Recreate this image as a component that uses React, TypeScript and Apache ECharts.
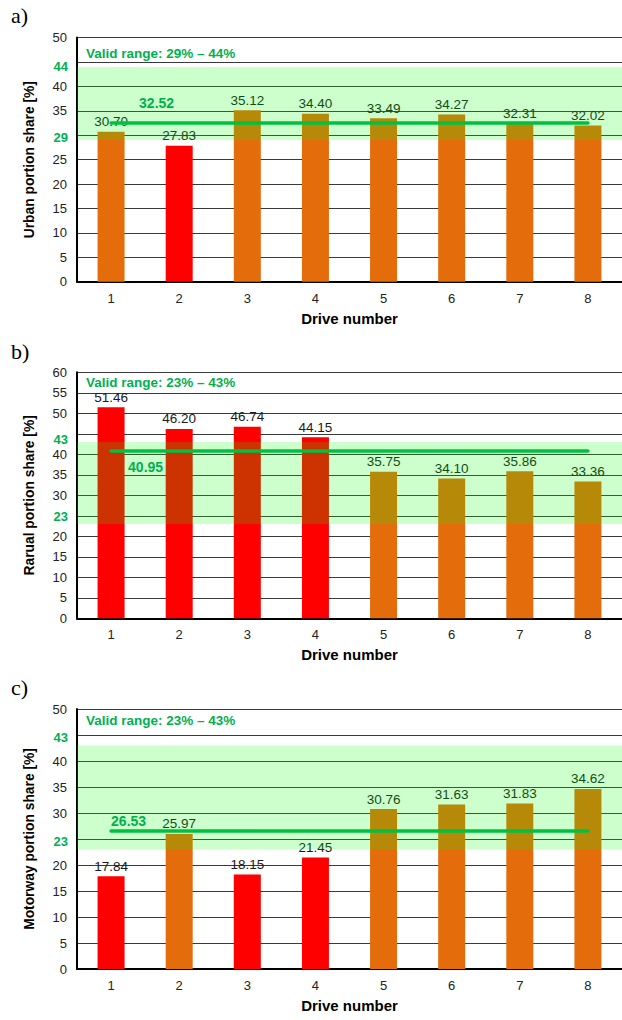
import React, { useEffect, useRef } from "react";
import * as echarts from "echarts";

const categories = ["1", "2", "3", "4", "5", "6", "7", "8"];

const urbanValues = [30.7, 27.83, 35.12, 34.4, 33.49, 34.27, 32.31, 32.02];
const ruralValues = [51.46, 46.2, 46.74, 44.15, 35.75, 34.1, 35.86, 33.36];
const motorwayValues = [17.84, 25.97, 18.15, 21.45, 30.76, 31.63, 31.83, 34.62];

const urbanRange = [29, 44];
const ruralRange = [23, 43];
const motorwayRange = [23, 43];

const urbanMean = 32.52;
const ruralMean = 40.95;
const motorwayMean = 26.53;

const yMaxes = [50, 60, 50];
const yNames = ["Urban portion share [%]", "Rarual portion share [%]", "Motorway portion share [%]"];
const panelLetters = ["a)", "b)", "c)"];

const FONT = "'Liberation Sans', Arial, sans-serif";
const GREEN_TEXT = "#00b050";
const GREEN_LINE = "#00c040";
const ORANGE = "#e46c0a";
const RED = "#ff0000";

export default function App() {
  const ref = useRef<HTMLDivElement>(null);

  useEffect(() => {
    if (!ref.current) return;
    const chart = echarts.init(ref.current, undefined, { renderer: "svg" });

    const panels = [
      { values: urbanValues, range: urbanRange, mean: urbanMean, top: 37.6, height: 244.1, titleTop: 41, letterTop: 4,
        meanPos: "insideStartTop", meanDist: [28, 13], loShift: 3, hiShift: 0 },
      { values: ruralValues, range: ruralRange, mean: ruralMean, top: 372.3, height: 246, titleTop: 370, letterTop: 340,
        meanPos: "insideStartBottom", meanDist: [17, 10], loShift: 8, hiShift: 3 },
      { values: motorwayValues, range: motorwayRange, mean: motorwayMean, top: 709, height: 260, titleTop: 708, letterTop: 676,
        meanPos: "insideStartTop", meanDist: [0, 3], loShift: 8, hiShift: 8 },
    ];

    const grids: any[] = [];
    const xAxes: any[] = [];
    const yAxes: any[] = [];
    const series: any[] = [];
    const titles: any[] = [];
    const graphics: any[] = [];

    panels.forEach((p, i) => {
      const [lo, hi] = p.range;
      const hiddenLine = { color: "rgba(0,0,0,0)", width: 0 };
      const thresholdLabel = (v: number, shift: number) => ({
        show: true,
        position: "start",
        distance: 9,
        formatter: String(v),
        color: GREEN_TEXT,
        fontWeight: "bold",
        fontSize: 13,
        fontFamily: FONT,
        offset: [0, -shift],
      });
      grids.push({ left: 77, right: 0, top: p.top, height: p.height, containLabel: false });
      xAxes.push({
        type: "category",
        gridIndex: i,
        data: categories,
        axisLine: { lineStyle: { color: "#000", width: 2 } },
        axisTick: { show: false },
        axisLabel: { fontFamily: FONT, fontSize: 13, color: "#222", margin: 10 },
        name: "Drive number",
        nameLocation: "middle",
        nameGap: 29,
        nameTextStyle: { fontFamily: FONT, fontSize: 15, fontWeight: "bold", color: "#000" },
      });
      yAxes.push({
        type: "value",
        gridIndex: i,
        min: 0,
        max: yMaxes[i],
        interval: 5,
        axisLine: { show: true, lineStyle: { color: "#000", width: 2 } },
        axisTick: { show: false },
        splitLine: { lineStyle: { color: "#3a3a3a", width: 1 } },
        axisLabel: {
          fontFamily: FONT,
          fontSize: 13,
          color: "#222",
          margin: 10,
          formatter: (v: number) => (Math.abs(v - lo) < 3 || Math.abs(v - hi) < 3 ? "" : String(v)),
        },
        name: yNames[i],
        nameLocation: "middle",
        nameGap: 41,
        nameRotate: 90,
        nameTextStyle: { fontFamily: FONT, fontSize: 13.8, fontWeight: "bold", color: "#000" },
      });
      series.push({
        type: "bar",
        xAxisIndex: i,
        yAxisIndex: i,
        barWidth: 27,
        z: 2,
        data: p.values.map((v) => ({
          value: v,
          itemStyle: { color: v < lo || v > hi ? RED : ORANGE },
        })),
        label: {
          show: true,
          position: "top",
          distance: 3,
          fontFamily: FONT,
          fontSize: 13.5,
          color: "#1a1a1a",
          formatter: (d: any) => d.value.toFixed(2),
        },
        markArea: {
          z: 3,
          silent: true,
          itemStyle: { color: "rgba(0,255,0,0.2)" },
          data: [[{ yAxis: lo }, { yAxis: hi }]],
        },
        markLine: {
          z: 5,
          silent: true,
          symbol: "none",
          data: [
            { yAxis: lo, lineStyle: hiddenLine, label: thresholdLabel(lo, p.loShift) },
            { yAxis: hi, lineStyle: hiddenLine, label: thresholdLabel(hi, p.hiShift) },
            [
              {
                coord: [0, p.mean],
                lineStyle: { color: GREEN_LINE, width: 3.5, type: "solid", cap: "round" },
                label: {
                  show: true,
                  position: p.meanPos,
                  distance: p.meanDist,
                  formatter: p.mean.toFixed(2),
                  color: GREEN_TEXT,
                  fontWeight: "bold",
                  fontSize: 14,
                  fontFamily: FONT,
                },
              },
              { coord: [7, p.mean] },
            ],
          ],
        },
      });
      titles.push({
        text: `Valid range: ${lo}% – ${hi}%`,
        left: 81,
        top: p.titleTop,
        textStyle: { fontFamily: FONT, fontSize: 13.5, fontWeight: "bold", color: GREEN_TEXT },
      });
      graphics.push({
        type: "text",
        left: 11,
        top: p.letterTop,
        style: { text: panelLetters[i], font: "22px 'Liberation Serif', 'Times New Roman', serif", fill: "#000" },
      });
    });

    chart.setOption({
      animation: false,
      backgroundColor: "#fff",
      title: titles,
      grid: grids,
      xAxis: xAxes,
      yAxis: yAxes,
      series,
      graphic: graphics,
    });

    return () => chart.dispose();
  }, []);

  return <div ref={ref} style={{ position: "absolute", left: 0, top: 0, width: 622, height: 1020 }} />;
}
